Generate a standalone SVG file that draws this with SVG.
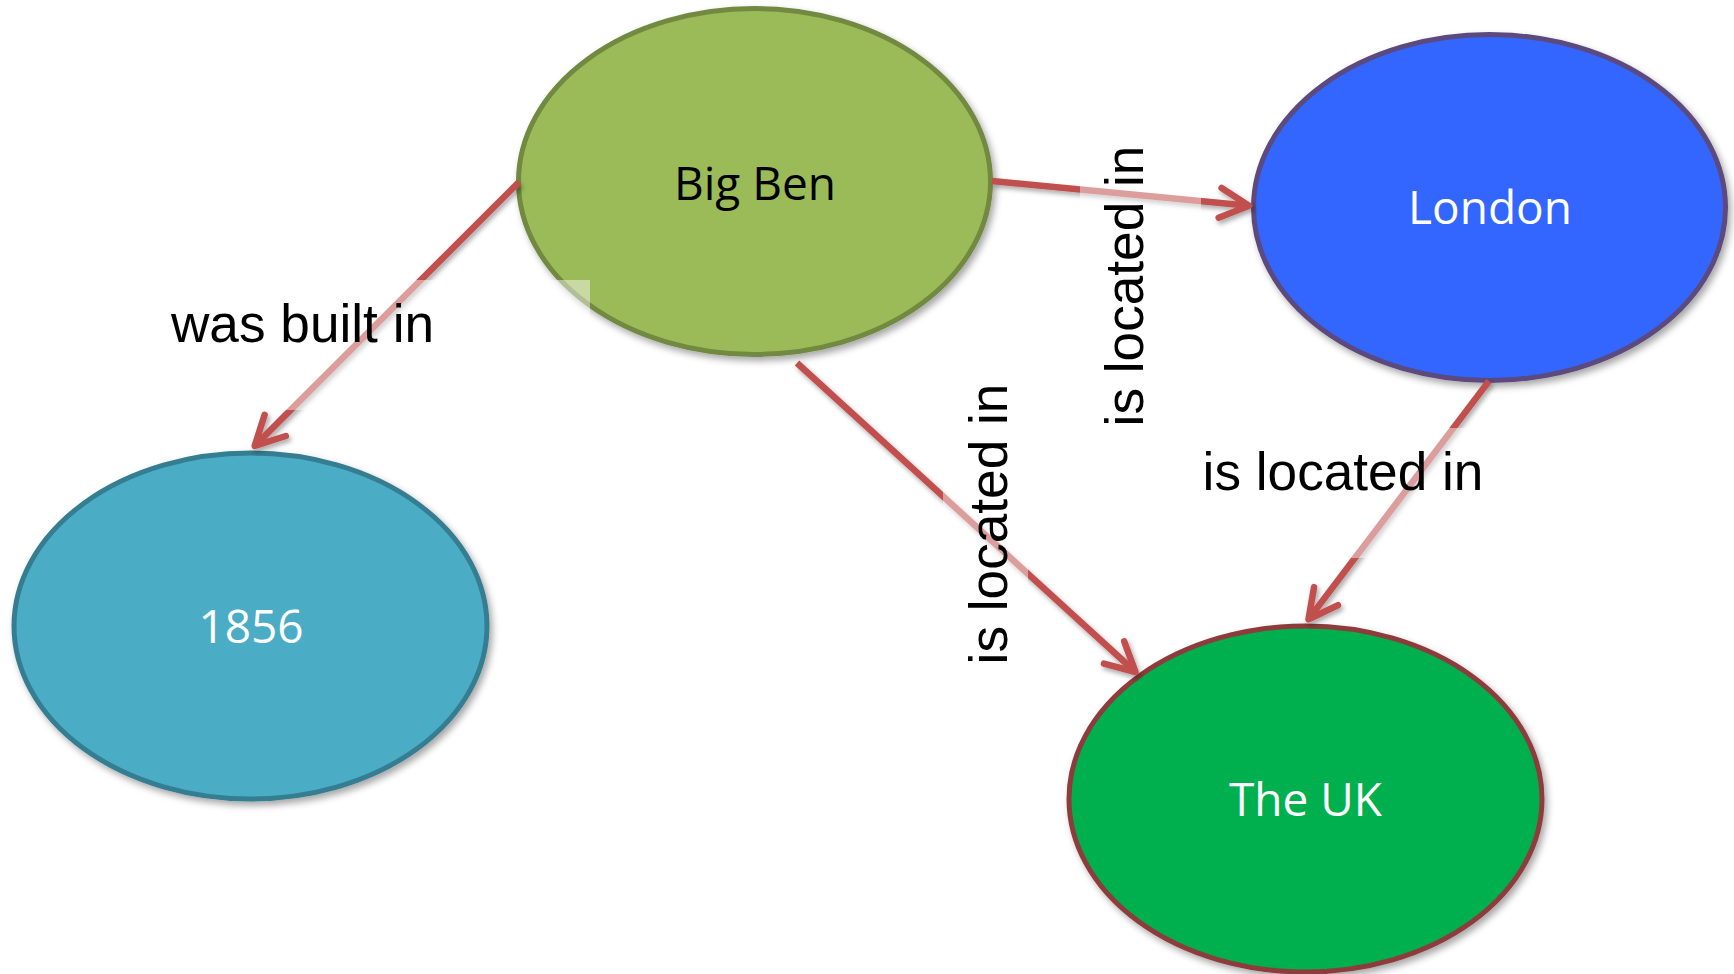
<svg xmlns="http://www.w3.org/2000/svg" width="1734" height="974" viewBox="0 0 1734 974">
  <defs>
    <filter id="shadow" x="-20%" y="-20%" width="140%" height="140%">
      <feDropShadow dx="3" dy="4" stdDeviation="3.5" flood-color="#000" flood-opacity="0.35"/>
    </filter>
    <filter id="lshadow" x="-20%" y="-20%" width="140%" height="140%">
      <feDropShadow dx="2" dy="3" stdDeviation="2.5" flood-color="#000" flood-opacity="0.35"/>
    </filter>
    <marker id="arrow" markerUnits="userSpaceOnUse" markerWidth="60" markerHeight="60" viewBox="-40 -30 50 60" refX="0" refY="0" orient="auto">
      <path d="M -29 -15 L 0 0 L -29 15" fill="none" stroke="#C0504D" stroke-width="6.5" stroke-linecap="round" stroke-linejoin="round"/>
    </marker>
  </defs>
  <style>
    .node { stroke-width: 5; filter: url(#shadow); }
    .ntext { font-family: "Open Sans", "Noto Sans", "DejaVu Sans", sans-serif; font-size: 46px; text-anchor: middle; }
    .edge { stroke: #C0504D; stroke-width: 6.5; fill: none; stroke-linecap: butt; marker-end: url(#arrow); }
    .lbox { fill: #FFFFFF; fill-opacity: 0.45; stroke: none; }
    .elabel { font-family: "Liberation Sans", Arial, sans-serif; font-size: 53.2px; fill: #000000; text-anchor: middle; }
  </style>
  <rect x="0" y="0" width="1734" height="974" fill="#FFFFFF"/>

  <g id="node-bigben">
    <ellipse class="node" cx="754.5" cy="181.5" rx="236" ry="173" fill="#9BBB59" stroke="#71893F"/>
    <text class="ntext" x="755" y="200" fill="#000000">Big Ben</text>
  </g>
  <g id="node-london">
    <ellipse class="node" cx="1489.5" cy="207.5" rx="236" ry="173" fill="#3366FF" stroke="#5C4A7E"/>
    <text class="ntext" x="1490" y="224" fill="#FFFFFF">London</text>
  </g>
  <g id="node-1856">
    <ellipse class="node" cx="250.5" cy="626" rx="236.5" ry="173" fill="#4BACC6" stroke="#357D91"/>
    <text class="ntext" x="251" y="643" fill="#FFFFFF">1856</text>
  </g>
  <g id="node-uk">
    <ellipse class="node" cx="1305.5" cy="799" rx="236.5" ry="173" fill="#00B050" stroke="#8E3B3A"/>
    <text class="ntext" x="1305.5" y="816" fill="#FFFFFF">The UK</text>
  </g>

  <g id="connectors">
    <g filter="url(#lshadow)">
      <line class="edge" x1="519" y1="182" x2="254.7" y2="445.9"/>
      <line class="edge" x1="992" y1="181" x2="1249" y2="205.7"/>
      <line class="edge" x1="797" y1="363" x2="1135.5" y2="672"/>
      <line class="edge" x1="1489" y1="381" x2="1308.5" y2="619.3"/>
    </g>
    <rect class="lbox" x="20" y="280" width="570" height="130"/>
    <rect class="lbox" x="1080" y="120" width="121" height="330"/>
    <rect class="lbox" x="943" y="360" width="85" height="330"/>
    <rect class="lbox" x="1180" y="428" width="330" height="130"/>
    <text class="elabel" x="302.5" y="342">was built in</text>
    <text class="elabel" transform="translate(1143,286) rotate(-90)">is located in</text>
    <text class="elabel" transform="translate(1007,524) rotate(-90)">is located in</text>
    <text class="elabel" x="1343" y="490">is located in</text>
  </g>
</svg>
